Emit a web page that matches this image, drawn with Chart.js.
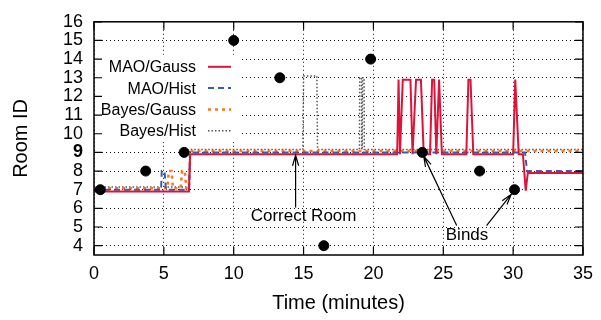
<!DOCTYPE html>
<html lang="en">
<head>
<meta charset="UTF-8">
<title>Room ID over time</title>
<style>
  body { margin: 0; background: #fff; }
  #wrap { width: 601px; height: 320px; }
</style>
</head>
<body>
<div id="wrap"><canvas id="roomChart" width="601" height="320"></canvas></div>
<script src="https://cdn.jsdelivr.net/npm/chart.js"></script>
<script>
// observed room ids (black dots)
const dotX = [0.45, 3.7, 6.45, 10.0, 13.3, 16.45, 19.8, 23.5, 27.6, 30.1];
const dotY = [7, 8, 9, 15, 13, 4, 14, 9, 8, 7];

// MAO/Gauss
const maoGaussX = [0, 6.8, 6.88, 21.7, 21.8, 21.9, 22.1, 22.65, 22.8, 23.05, 23.4, 23.6, 24.05, 24.2, 24.35, 24.5, 24.7, 24.9, 26.65, 26.8, 26.95, 27.15, 30.0, 30.15, 30.4, 30.7, 30.9, 31.05, 35];
const maoGaussY = [6.9, 6.9, 8.9, 8.9, 12.9, 8.9, 12.9, 12.9, 8.9, 12.9, 12.9, 8.9, 8.9, 12.9, 12.9, 8.9, 12.9, 8.9, 8.9, 12.9, 12.9, 8.9, 8.9, 12.9, 8.9, 8.9, 6.95, 7.9, 7.9];

// MAO/Hist
const maoHistX = [0, 4.8, 4.85, 5.05, 5.15, 6.8, 6.88, 30.85, 31.0, 35];
const maoHistY = [7.0, 7.0, 8.0, 8.0, 7.0, 7.0, 9.0, 9.0, 8.0, 8.0];

// Bayes/Gauss
const bayesGaussX = [0, 5.25, 5.35, 5.55, 5.65, 6.2, 6.3, 6.5, 6.6, 6.8, 6.88, 35];
const bayesGaussY = [7.08, 7.08, 8.0, 8.0, 7.08, 7.08, 8.0, 8.0, 7.08, 7.08, 9.08, 9.08];

// Bayes/Hist
const bayesHistX = [0, 6.8, 6.88, 14.95, 15.0, 15.95, 16.0, 19.0, 19.02, 19.15, 19.17, 19.2, 19.22, 19.33, 19.35, 35];
const bayesHistY = [7.15, 7.15, 9.15, 9.15, 13.1, 13.1, 9.15, 9.15, 13.0, 13.0, 9.15, 9.15, 13.0, 13.0, 9.15, 9.15];

const xTicks = [0, 5, 10, 15, 20, 25, 30, 35];
const yTicks = [4, 5, 6, 7, 8, 9, 10, 11, 12, 13, 14, 15, 16];

// annotations (data coordinates)
const correctText = { text: 'Correct Room', x: 15.0, y: 5.55 };
const correctArrows = [[14.43, 6.05, 14.43, 8.85]];
const bindsText = { text: 'Binds', x: 26.7, y: 4.57 };
const bindsArrows = [[25.96, 5.08, 23.6, 8.8], [28.1, 5.08, 29.86, 6.75]];

const FONT = "'Liberation Sans', Arial, sans-serif";

function pts(xs, ys) {
    return xs.map((x, i) => ({ x: x, y: ys[i] }));
}

function drawArrow(ctx, x1, y1, x2, y2) {
    const ang = Math.atan2(y2 - y1, x2 - x1);
    const len = 11, spread = 0.28;
    ctx.beginPath();
    ctx.moveTo(x1, y1);
    ctx.lineTo(x2, y2);
    ctx.moveTo(x2 - len * Math.cos(ang - spread), y2 - len * Math.sin(ang - spread));
    ctx.lineTo(x2, y2);
    ctx.lineTo(x2 - len * Math.cos(ang + spread), y2 - len * Math.sin(ang + spread));
    ctx.stroke();
}

// legend gnuplot-style: text first, sample on the right
const keyPlugin = {
    id: 'key',
    beforeDatasetsDraw(chart) {
        const ctx = chart.ctx;
        const a = chart.chartArea;
        ctx.save();
        ctx.fillStyle = '#fff';
        ctx.fillRect(a.left + 1, a.top + 33, 147, 87);
        ctx.font = '16px ' + FONT;
        ctx.textAlign = 'right';
        ctx.textBaseline = 'middle';
        chart.data.datasets.forEach((ds, i) => {
            if (!ds.keyRow && ds.keyRow !== 0) return;
            const y = a.top + 45 + ds.keyRow * 21.3;
            ctx.fillStyle = '#000';
            ctx.fillText(ds.label, a.left + 102, y + 1);
            ctx.strokeStyle = ds.borderColor;
            ctx.lineWidth = ds.borderWidth;
            ctx.setLineDash(ds.borderDash || []);
            ctx.beginPath();
            ctx.moveTo(a.left + 114, y);
            ctx.lineTo(a.left + 137, y);
            ctx.stroke();
        });
        ctx.restore();
    },
    afterDatasetsDraw(chart) {
        const ctx = chart.ctx;
        const a = chart.chartArea;
        const xs = chart.scales.x, ys = chart.scales.y;
        ctx.save();
        // frame and inner ticks
        ctx.strokeStyle = '#000';
        ctx.lineWidth = 1.5;
        ctx.setLineDash([]);
        ctx.strokeRect(a.left, a.top, a.right - a.left, a.bottom - a.top);
        ctx.lineWidth = 1.2;
        ctx.beginPath();
        yTicks.forEach(v => {
            const py = ys.getPixelForValue(v);
            ctx.moveTo(a.left, py); ctx.lineTo(a.left + 8, py);
            ctx.moveTo(a.right, py); ctx.lineTo(a.right - 8, py);
        });
        xTicks.forEach(v => {
            const px = xs.getPixelForValue(v);
            ctx.moveTo(px, a.bottom); ctx.lineTo(px, a.bottom - 8);
            ctx.moveTo(px, a.top); ctx.lineTo(px, a.top + 8);
        });
        ctx.stroke();

        // annotations
        ctx.fillStyle = '#000';
        ctx.font = '17px ' + FONT;
        ctx.textAlign = 'center';
        ctx.textBaseline = 'middle';
        [correctText, bindsText].forEach(t => {
            ctx.fillText(t.text, xs.getPixelForValue(t.x), ys.getPixelForValue(t.y));
        });
        ctx.lineWidth = 1.2;
        correctArrows.concat(bindsArrows).forEach(r => {
            drawArrow(ctx, xs.getPixelForValue(r[0]), ys.getPixelForValue(r[1]),
                xs.getPixelForValue(r[2]), ys.getPixelForValue(r[3]));
        });
        ctx.restore();
    }
};

new Chart(document.getElementById('roomChart'), {
    type: 'line',
    data: {
        datasets: [
            {
                type: 'scatter',
                label: 'Observed',
                data: pts(dotX, dotY),
                backgroundColor: '#000',
                borderColor: '#000',
                pointRadius: 5,
                showLine: false
            },
            {
                label: 'MAO/Gauss',
                keyRow: 0,
                data: pts(maoGaussX, maoGaussY),
                borderColor: '#dc143c',
                borderWidth: 2,
                pointRadius: 0,
                tension: 0
            },
            {
                label: 'MAO/Hist',
                keyRow: 1,
                data: pts(maoHistX, maoHistY),
                borderColor: '#3a5cb0',
                borderWidth: 2,
                borderDash: [6, 4],
                pointRadius: 0,
                tension: 0
            },
            {
                label: 'Bayes/Gauss',
                keyRow: 2,
                data: pts(bayesGaussX, bayesGaussY),
                borderColor: '#ff7420',
                borderWidth: 2.5,
                borderDash: [3, 4],
                pointRadius: 0,
                tension: 0
            },
            {
                label: 'Bayes/Hist',
                keyRow: 3,
                data: pts(bayesHistX, bayesHistY),
                borderColor: '#555',
                borderWidth: 1.5,
                borderDash: [1.5, 2],
                pointRadius: 0,
                tension: 0
            }
        ]
    },
    options: {
        responsive: false,
        animation: false,
        devicePixelRatio: 1,
        layout: { padding: { top: 13, right: 14, left: 0, bottom: 0 } },
        plugins: {
            legend: { display: false },
            tooltip: { enabled: false }
        },
        scales: {
            x: {
                type: 'linear',
                min: 0,
                max: 35,
                afterFit: s => { s.height = 65; },
                afterBuildTicks: s => { s.ticks = xTicks.map(v => ({ value: v })); },
                grid: { color: '#111', lineWidth: 1, drawTicks: false },
                border: { display: false, dash: [1, 3] },
                ticks: { color: '#000', padding: 8, maxRotation: 0, autoSkip: false, font: { family: FONT, size: 18 } },
                title: {
                    display: true,
                    text: 'Time (minutes)',
                    color: '#000',
                    font: { family: FONT, size: 20 },
                    padding: { top: 0, bottom: 5 }
                }
            },
            y: {
                min: 3.5,
                max: 16,
                afterFit: s => { s.width = 94; },
                afterBuildTicks: s => { s.ticks = yTicks.map(v => ({ value: v })); },
                grid: { color: '#111', lineWidth: 1, drawTicks: false },
                border: { display: false, dash: [1, 3] },
                ticks: {
                    color: '#000',
                    padding: 11,
                    autoSkip: false,
                    font: ctx => ({
                        family: FONT,
                        size: 18,
                        weight: ctx.tick && ctx.tick.value === 9 ? 'bold' : 'normal'
                    })
                },
                title: {
                    display: true,
                    text: 'Room ID',
                    color: '#000',
                    font: { family: FONT, size: 20 },
                    padding: { top: 9, bottom: 0 }
                }
            }
        }
    },
    plugins: [keyPlugin]
});
</script>
</body>
</html>
